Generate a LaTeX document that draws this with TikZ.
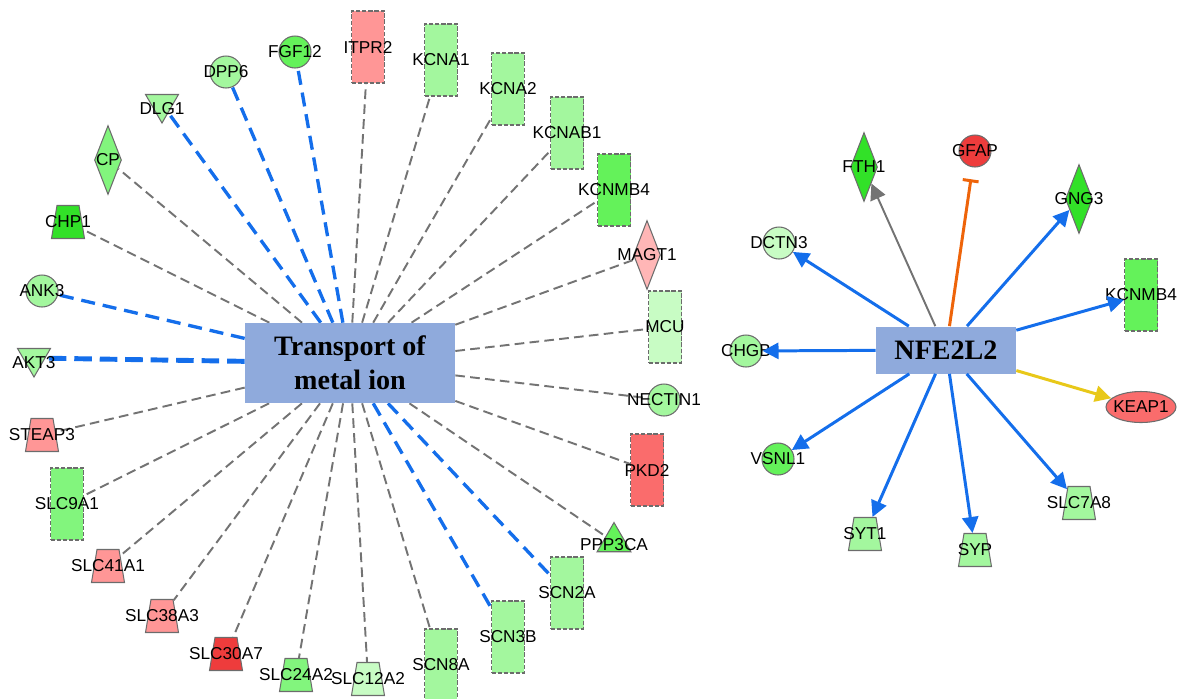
\documentclass[tikz,border=0pt]{standalone}
\usepackage{fontspec}
\setmainfont{Liberation Sans}
\newfontfamily\hubfont{Liberation Serif}
\usepackage{tikz}
\usetikzlibrary{shapes.geometric,arrows.meta,backgrounds}
\definecolor{hubblue}{RGB}{143,170,220}
\definecolor{vlgreen}{RGB}{200,252,196}
\definecolor{lgreen}{RGB}{163,247,158}
\definecolor{mgreen}{RGB}{130,245,125}
\definecolor{bgreen}{RGB}{100,242,90}
\definecolor{dgreen}{RGB}{50,225,40}
\definecolor{lpink}{RGB}{255,182,182}
\definecolor{pinkc}{RGB}{255,150,150}
\definecolor{redc}{RGB}{250,108,108}
\definecolor{dredc}{RGB}{238,60,60}
\definecolor{lnblue}{RGB}{20,110,235}
\definecolor{lngray}{RGB}{115,115,115}
\definecolor{lnorange}{RGB}{238,100,10}
\definecolor{lnyellow}{RGB}{232,200,25}
\tikzset{
  lbl/.style={font=\fontsize{9.8}{10}\selectfont, inner sep=0pt},
  gene/.style={draw=gray!85!black, line width=0.6pt, inner sep=0pt},
  rect/.style={gene, rectangle, dash pattern=on 2.5pt off 1pt, minimum width=0.66cm,
               minimum height=1.44cm, label={[lbl]center:#1}},
  circ/.style={gene, circle, minimum size=0.64cm, label={[lbl]center:#1}},
  trap/.style={gene, trapezium, inner sep=1pt, trapezium left angle=76,
               trapezium right angle=76, trapezium stretches=true,
               minimum width=0.66cm, minimum height=0.66cm, label={[lbl]center:#1}},
  tri/.style={gene, regular polygon, regular polygon sides=3, minimum size=0.78cm,
              label={[lbl,yshift=-0.05cm]center:#1}},
  vtri/.style={gene, regular polygon, regular polygon sides=3, shape border rotate=180,
               minimum size=0.76cm, label={[lbl,yshift=-0.1cm]center:#1}},
  dia/.style={gene, diamond, aspect=0.4, minimum width=0.54cm, minimum height=1.38cm,
              label={[lbl]center:#1}},
  ell/.style={gene, ellipse, minimum width=1.4cm, minimum height=0.62cm,
              label={[lbl]center:#1}},
  hub/.style={rectangle, fill=hubblue, align=center, inner sep=0pt,
              font=\hubfont\bfseries\fontsize{16}{19.5}\selectfont},
  rel/.style={lngray, line width=1.1pt, dash pattern=on 5.5pt off 3pt},
  relb/.style={lnblue, line width=1.9pt, dash pattern=on 8pt off 4.5pt},
  act/.style={lnblue, line width=1.7pt, -{Triangle[length=3.2mm,width=3.2mm]}}
}

\begin{document}
\begin{tikzpicture}[x=0.02cm, y=-0.02cm]
  \useasboundingbox (0,0) rectangle (1178,698);
  % transport of metal ion
  \node[hub, minimum width=4.2cm, minimum height=1.6cm] (tm) at (350,363) {Transport of\\metal ion};
  \node[rect=ITPR2, fill=pinkc] (itpr2) at (368,47) {};
  \node[rect=KCNA1, fill=lgreen] (kcna1) at (441,60) {};
  \node[rect=KCNA2, fill=lgreen] (kcna2) at (508,89) {};
  \node[rect=KCNAB1, fill=lgreen] (kcnab1) at (567,133) {};
  \node[rect=KCNMB4, fill=bgreen] (kcnmb4) at (614,190) {};
  \node[dia=MAGT1, fill=lpink] (magt1) at (647,255) {};
  \node[rect=MCU, fill=vlgreen] (mcu) at (665,327) {};
  \node[circ=NECTIN1, fill=lgreen] (nectin1) at (664,400) {};
  \node[rect=PKD2, fill=redc] (pkd2) at (647,470) {};
  \node[tri=PPP3CA, fill=bgreen] (ppp3ca) at (614,542) {};
  \node[rect=SCN2A, fill=lgreen] (scn2a) at (567,593) {};
  \node[rect=SCN3B, fill=lgreen] (scn3b) at (508,637) {};
  \node[rect=SCN8A, fill=lgreen] (scn8a) at (441,665) {};
  \node[trap=SLC12A2, fill=vlgreen] (slc12a2) at (368,679) {};
  \node[trap=SLC24A2, fill=mgreen] (slc24a2) at (296,675) {};
  \node[trap=SLC30A7, fill=dredc] (slc30a7) at (226,654) {};
  \node[trap=SLC38A3, fill=pinkc] (slc38a3) at (162,616) {};
  \node[trap=SLC41A1, fill=pinkc] (slc41a1) at (108,566) {};
  \node[rect=SLC9A1, fill=mgreen] (slc9a1) at (67,504) {};
  \node[trap=STEAP3, fill=pinkc] (steap3) at (42,435) {};
  \node[vtri=AKT3, fill=lgreen] (akt3) at (34,358) {};
  \node[circ=ANK3, fill=lgreen] (ank3) at (42,291) {};
  \node[trap=CHP1, fill=dgreen] (chp1) at (68,222) {};
  \node[dia=CP, fill=mgreen] (cp) at (108,160) {};
  \node[vtri=DLG1, fill=lgreen] (dlg1) at (162,104) {};
  \node[circ=DPP6, fill=lgreen] (dpp6) at (226,72) {};
  \node[circ=FGF12, fill=bgreen] (fgf12) at (295,52) {};
  \begin{scope}[on background layer]
    \draw[rel] (tm)--(itpr2); \draw[rel] (tm)--(kcna1); \draw[rel] (tm)--(kcna2);
    \draw[rel] (tm)--(kcnab1); \draw[rel] (tm)--(kcnmb4); \draw[rel] (tm)--(magt1);
    \draw[rel] (tm)--(mcu); \draw[rel] (tm)--(nectin1); \draw[rel] (tm)--(pkd2);
    \draw[rel] (tm)--(ppp3ca); \draw[rel] (tm)--(scn8a); \draw[rel] (tm)--(slc12a2);
    \draw[rel] (tm)--(slc24a2); \draw[rel] (tm)--(slc30a7); \draw[rel] (tm)--(slc38a3);
    \draw[rel] (tm)--(slc41a1); \draw[rel] (tm)--(slc9a1); \draw[rel] (tm)--(steap3);
    \draw[rel] (tm)--(chp1); \draw[rel] (tm)--(cp);
    \draw[relb] (tm)--(scn2a); \draw[relb] (tm)--(scn3b); \draw[relb] (tm)--(ank3);
    \draw[relb] (tm)--(dlg1); \draw[relb] (tm)--(dpp6); \draw[relb] (tm)--(fgf12);
    \draw[relb, line width=2.8pt, dash pattern=on 10pt off 4.5pt] (tm)--(akt3);
  \end{scope}
  % NFE2L2
  \node[hub, minimum width=2.8cm, minimum height=0.94cm] (nfe) at (946,350) {NFE2L2};
  \node[dia=FTH1, fill=dgreen] (fth1) at (864,167) {};
  \node[circ=GFAP, fill=dredc] (gfap) at (975,151) {};
  \node[dia=GNG3, fill=dgreen] (gng3) at (1079,199) {};
  \node[circ=DCTN3, fill=vlgreen] (dctn3) at (779,243) {};
  \node[rect=KCNMB4, fill=bgreen] (kcnmb4b) at (1141,295) {};
  \node[circ=CHGB, fill=lgreen] (chgb) at (746,351) {};
  \node[ell=KEAP1, fill=redc] (keap1) at (1141,407) {};
  \node[circ=VSNL1, fill=bgreen] (vsnl1) at (778,459) {};
  \node[trap=SYT1, fill=lgreen] (syt1) at (865,534) {};
  \node[trap=SYP, fill=lgreen] (syp) at (975,550) {};
  \node[trap=SLC7A8, fill=lgreen] (slc7a8) at (1079,503) {};
  \draw[act, lngray, line width=1.1pt] (nfe)--(fth1);
  \draw[lnorange, line width=1.7pt, -{Bar[width=3.2mm]}, shorten >=0.24cm] (nfe)--(gfap);
  \draw[act] (nfe)--(gng3); \draw[act] (nfe)--(dctn3); \draw[act] (nfe)--(kcnmb4b);
  \draw[act] (nfe)--(chgb); \draw[act] (nfe)--(vsnl1); \draw[act] (nfe)--(syt1);
  \draw[act] (nfe)--(syp); \draw[act] (nfe)--(slc7a8);
  \draw[act, lnyellow] (nfe)--(keap1);
\end{tikzpicture}
\end{document}
